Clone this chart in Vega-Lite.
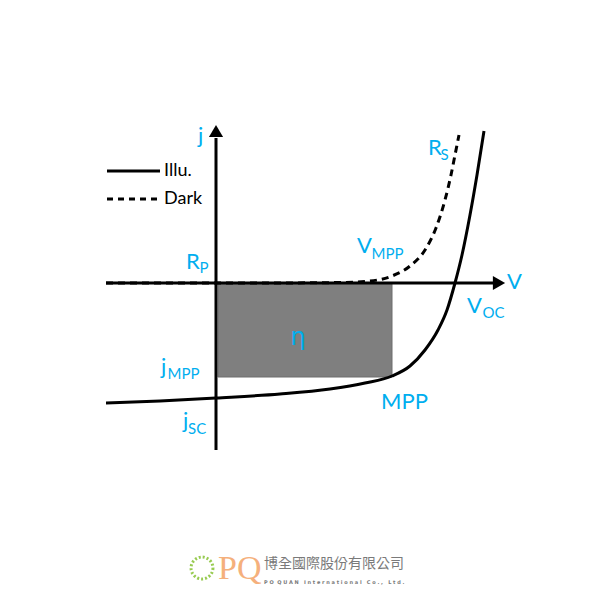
{
  "$schema": "https://vega.github.io/schema/vega-lite/v6.json",
  "width": 600,
  "height": 600,
  "padding": 0,
  "autosize": {"type": "fit", "contains": "padding"},
  "background": "white",
  "config": {"view": {"stroke": null}},
  "datasets": {
    "illu": [
      {"V": -1.10, "j": -1.20}, {"V": -0.56, "j": -1.18}, {"V": 0.0, "j": -1.15},
      {"V": 0.64, "j": -1.11}, {"V": 1.14, "j": -1.06}, {"V": 1.49, "j": -1.00},
      {"V": 1.76, "j": -0.93}, {"V": 1.94, "j": -0.83}, {"V": 2.09, "j": -0.67},
      {"V": 2.22, "j": -0.47}, {"V": 2.31, "j": -0.27}, {"V": 2.39, "j": 0.0},
      {"V": 2.46, "j": 0.28}, {"V": 2.54, "j": 0.68}, {"V": 2.61, "j": 1.08},
      {"V": 2.68, "j": 1.52}
    ],
    "dark": [
      {"V": -1.10, "j": 0.0}, {"V": 0.5, "j": 0.0}, {"V": 1.24, "j": 0.005},
      {"V": 1.54, "j": 0.02}, {"V": 1.76, "j": 0.07}, {"V": 1.94, "j": 0.17},
      {"V": 2.09, "j": 0.33}, {"V": 2.20, "j": 0.55}, {"V": 2.29, "j": 0.83},
      {"V": 2.35, "j": 1.08}, {"V": 2.39, "j": 1.28}, {"V": 2.43, "j": 1.48}
    ],
    "labels": [
      {"t": "j", "V": -0.18, "j": 1.47},
      {"t": "V", "V": 2.91, "j": 0.01},
      {"t": "R", "V": -0.30, "j": 0.21},
      {"t": "V", "V": 1.41, "j": 0.37},
      {"t": "R", "V": 2.12, "j": 1.35},
      {"t": "V", "V": 2.51, "j": -0.23},
      {"t": "j", "V": -0.55, "j": -0.84},
      {"t": "j", "V": -0.33, "j": -1.38},
      {"t": "MPP", "V": 1.65, "j": -1.19}
    ],
    "subs": [
      {"t": "P", "V": -0.165, "j": 0.15},
      {"t": "MPP", "V": 1.555, "j": 0.29},
      {"t": "S", "V": 2.245, "j": 1.28},
      {"t": "OC", "V": 2.665, "j": -0.30},
      {"t": "MPP", "V": -0.485, "j": -0.91},
      {"t": "SC", "V": -0.28, "j": -1.46}
    ],
    "legend": [
      {"t": "Illu.", "V": -0.52, "j": 1.12, "dash": "solid", "x1": -1.09, "x2": -0.56},
      {"t": "Dark", "V": -0.52, "j": 0.84, "dash": "dashed", "x1": -1.09, "x2": -0.56}
    ]
  },
  "layer": [
    {
      "data": {"values": [{"V1": 0.02, "V2": 1.76, "j1": 0.0, "j2": -0.94}]},
      "mark": {"type": "rect", "color": "#7F7F7F", "stroke": "#6f6f6f", "strokeWidth": 1},
      "encoding": {
        "x": {"field": "V1", "type": "quantitative", "scale": {"domain": [-2.16, 3.84], "nice": false, "zero": false}, "axis": null},
        "x2": {"field": "V2"},
        "y": {"field": "j1", "type": "quantitative", "scale": {"domain": [-3.17, 2.83], "nice": false, "zero": false}, "axis": null},
        "y2": {"field": "j2"}
      }
    },
    {
      "data": {"values": [
        {"a": -1.10, "b": 2.77, "c": 0.0, "d": 0.0},
        {"a": 0.0, "b": 0.0, "c": -1.67, "d": 1.45}
      ]},
      "mark": {"type": "rule", "color": "black", "strokeWidth": 3},
      "encoding": {
        "x": {"field": "a", "type": "quantitative"},
        "x2": {"field": "b"},
        "y": {"field": "c", "type": "quantitative"},
        "y2": {"field": "d"}
      }
    },
    {
      "data": {"values": [
        {"V": 2.83, "j": 0.0, "s": "triangle-right"},
        {"V": 0.0, "j": 1.52, "s": "triangle-up"}
      ]},
      "mark": {"type": "point", "filled": true, "color": "black", "opacity": 1, "size": 200},
      "encoding": {
        "x": {"field": "V", "type": "quantitative"},
        "y": {"field": "j", "type": "quantitative"},
        "shape": {"field": "s", "type": "nominal", "scale": null}
      }
    },
    {
      "data": {"name": "dark"},
      "mark": {"type": "line", "color": "black", "strokeWidth": 3, "strokeDash": [7, 5], "interpolate": "monotone"},
      "encoding": {
        "x": {"field": "V", "type": "quantitative"},
        "y": {"field": "j", "type": "quantitative"}
      }
    },
    {
      "data": {"name": "illu"},
      "mark": {"type": "line", "color": "black", "strokeWidth": 3, "interpolate": "monotone"},
      "encoding": {
        "x": {"field": "V", "type": "quantitative"},
        "y": {"field": "j", "type": "quantitative"}
      }
    },
    {
      "data": {"name": "legend"},
      "mark": {"type": "rule", "color": "black", "strokeWidth": 3},
      "encoding": {
        "x": {"field": "x1", "type": "quantitative"},
        "x2": {"field": "x2"},
        "y": {"field": "j", "type": "quantitative"},
        "strokeDash": {"field": "dash", "type": "nominal", "scale": {"domain": ["solid", "dashed"], "range": [[1, 0], [6, 5]]}, "legend": null}
      }
    },
    {
      "data": {"name": "legend"},
      "mark": {"type": "text", "align": "left", "baseline": "middle", "font": "Lato", "fontSize": 18, "color": "black"},
      "encoding": {
        "x": {"field": "V", "type": "quantitative"},
        "y": {"field": "j", "type": "quantitative"},
        "text": {"field": "t"}
      }
    },
    {
      "data": {"name": "labels"},
      "mark": {"type": "text", "align": "left", "baseline": "middle", "font": "Lato", "fontSize": 22, "color": "#00AEEF"},
      "encoding": {
        "x": {"field": "V", "type": "quantitative"},
        "y": {"field": "j", "type": "quantitative"},
        "text": {"field": "t"}
      }
    },
    {
      "data": {"values": [{"t": "η", "V": 0.82, "j": -0.55}]},
      "mark": {"type": "text", "align": "center", "baseline": "middle", "font": "DejaVu Sans", "fontSize": 24, "color": "#00AEEF"},
      "encoding": {
        "x": {"field": "V", "type": "quantitative"},
        "y": {"field": "j", "type": "quantitative"},
        "text": {"field": "t"}
      }
    },
    {
      "data": {"name": "subs"},
      "mark": {"type": "text", "align": "left", "baseline": "middle", "font": "Lato", "fontSize": 15, "color": "#00AEEF"},
      "encoding": {
        "x": {"field": "V", "type": "quantitative"},
        "y": {"field": "j", "type": "quantitative"},
        "text": {"field": "t"}
      }
    },
    {
      "data": {"values": [{"V": -0.14, "j": -2.85}]},
      "mark": {"type": "point", "shape": "circle", "filled": false, "size": 480, "stroke": "#8DC63F", "strokeWidth": 3, "strokeDash": [2, 2], "opacity": 0.9},
      "encoding": {
        "x": {"field": "V", "type": "quantitative"},
        "y": {"field": "j", "type": "quantitative"}
      }
    },
    {
      "data": {"values": [{"t": "PQ", "V": 0.02, "j": -2.86}]},
      "mark": {"type": "text", "align": "left", "baseline": "middle", "font": "Liberation Serif", "fontSize": 34, "color": "#F5B07C"},
      "encoding": {
        "x": {"field": "V", "type": "quantitative"},
        "y": {"field": "j", "type": "quantitative"},
        "text": {"field": "t"}
      }
    },
    {
      "data": {"values": [{"t": "博全國際股份有限公司", "V": 0.48, "j": -2.81}]},
      "mark": {"type": "text", "align": "left", "baseline": "middle", "font": "Noto Sans CJK TC", "fontSize": 14, "color": "#7a7a7a"},
      "encoding": {
        "x": {"field": "V", "type": "quantitative"},
        "y": {"field": "j", "type": "quantitative"},
        "text": {"field": "t"}
      }
    },
    {
      "data": {"values": [{"t": "P\u00a0O\u00a0\u00a0Q\u00a0U\u00a0A\u00a0N\u00a0\u00a0\u00a0I\u00a0n\u00a0t\u00a0e\u00a0r\u00a0n\u00a0a\u00a0t\u00a0i\u00a0o\u00a0n\u00a0a\u00a0l\u00a0\u00a0\u00a0C\u00a0o\u00a0.\u00a0,\u00a0\u00a0\u00a0L\u00a0t\u00a0d\u00a0.", "V": 0.48, "j": -2.99}]},
      "mark": {"type": "text", "align": "left", "baseline": "middle", "font": "DejaVu Sans", "fontSize": 5, "fontWeight": "bold", "color": "#7a7a7a"},
      "encoding": {
        "x": {"field": "V", "type": "quantitative"},
        "y": {"field": "j", "type": "quantitative"},
        "text": {"field": "t"}
      }
    }
  ]
}
